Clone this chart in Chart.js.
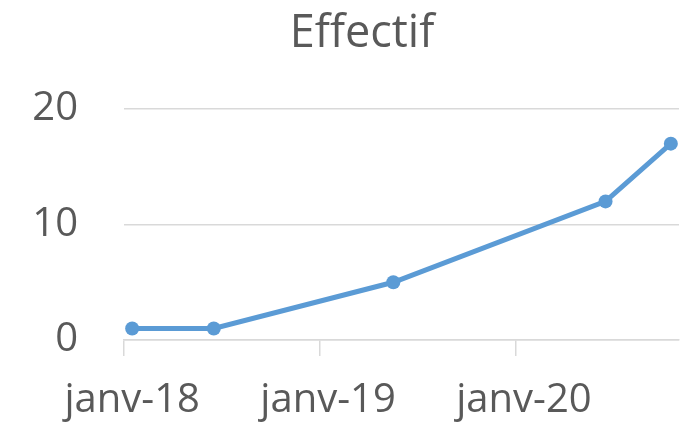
<!DOCTYPE html>
<html>
<head>
<meta charset="utf-8">
<script src="https://cdn.jsdelivr.net/npm/chart.js@4/dist/chart.umd.min.js"></script>
<style>
  html, body { margin: 0; padding: 0; background: #ffffff; }
  #wrap { width: 692px; height: 425px; }
</style>
</head>
<body>
<div id="wrap"><canvas id="c" width="692" height="425"></canvas></div>
<script>
// Data
const startMonth = '2018-01';
const monthsShown = 34;             // Jan 2018 .. Oct 2020 (date axis, monthly base unit)
const dates = ['2018-01', '2018-06', '2019-05', '2020-06', '2020-10'];
const values = [1, 1, 5, 12, 17];
const xTickLabels = ['janv-18', 'janv-19', 'janv-20'];
const yTicks = [0, 10, 20];
const title = 'Effectif';

function monthIndex(s) {
  const [y, m] = s.split('-').map(Number);
  const [y0, m0] = startMonth.split('-').map(Number);
  return (y - y0) * 12 + (m - m0);
}
// points sit in the middle of their month slot (Excel date axis)
const points = dates.map((d, i) => ({ x: monthIndex(d) + 0.5, y: values[i] }));

const txt = '#595959';
const gridC = '#d9d9d9';
const FONT = "'Open Sans', 'Liberation Sans', sans-serif";

// let the y-axis labels draw to the left of the (padded) axis box
const widenLabelClip = {
  id: 'widenLabelClip',
  afterLayout(chart) { if (chart.scales.y) chart.scales.y.left = 0; }
};

new Chart(document.getElementById('c'), {
  type: 'line',
  plugins: [widenLabelClip],
  data: {
    datasets: [{
      data: points,
      borderColor: '#5b9bd5',
      backgroundColor: '#5b9bd5',
      borderWidth: 5,
      pointRadius: 7,
      pointHoverRadius: 7,
      pointBorderWidth: 0,
      tension: 0,
      clip: false
    }]
  },
  options: {
    responsive: false,
    animation: false,
    devicePixelRatio: 1,
    layout: { padding: { left: 45, right: 13, top: 0, bottom: 0 } },
    plugins: {
      legend: { display: false },
      tooltip: { enabled: false },
      title: {
        display: true,
        text: title,
        color: txt,
        font: { family: FONT, size: 45, weight: 'normal' },
        padding: { top: 7, bottom: 48 }
      }
    },
    scales: {
      x: {
        type: 'linear',
        min: 0,
        max: monthsShown,
        afterBuildTicks: (scale) => {
          const t = [];
          xTickLabels.forEach((_, i) => { t.push({ value: i * 12 }); t.push({ value: i * 12 + 0.5 }); });
          scale.ticks = t;
        },
        afterFit: (scale) => { scale.height = 85; },
        ticks: {
          autoSkip: false,
          maxRotation: 0,
          minRotation: 0,
          padding: 21,
          color: txt,
          font: { family: FONT, size: 40 },
          callback: (v) => {
            if (Number.isInteger(v)) return '';
            const k = Math.round((v - 0.5) / 12);
            return xTickLabels[k] || '';
          }
        },
        grid: {
          display: true,
          drawOnChartArea: false,
          drawTicks: true,
          tickLength: 16,
          lineWidth: 1.5,
          color: (ctx) => (ctx.tick && Number.isInteger(ctx.tick.value)) ? gridC : 'rgba(0,0,0,0)',
          tickColor: (ctx) => (ctx.tick && Number.isInteger(ctx.tick.value)) ? gridC : 'rgba(0,0,0,0)'
        },
        border: { display: true, color: gridC, width: 1.5 }
      },
      y: {
        min: yTicks[0],
        max: yTicks[yTicks.length - 1],
        afterBuildTicks: (scale) => { scale.ticks = yTicks.map(v => ({ value: v })); },
        afterFit: (scale) => { scale.width = 79; },
        ticks: {
          padding: 46,
          color: txt,
          font: { family: FONT, size: 40 }
        },
        grid: {
          color: gridC,
          lineWidth: 1.5,
          drawTicks: false
        },
        border: { display: false }
      }
    }
  }
});
</script>
</body>
</html>
